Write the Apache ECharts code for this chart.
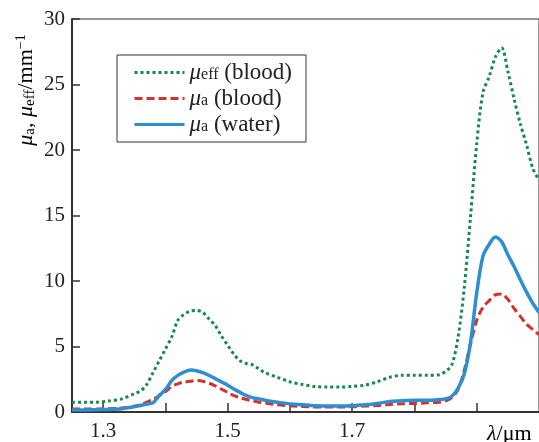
<!DOCTYPE html>
<html>
<head>
<meta charset="utf-8">
<script src="https://cdn.jsdelivr.net/npm/echarts@6/dist/echarts.min.js"></script>
<style>
html,body{margin:0;padding:0;background:#fff;}
#chart{width:539px;height:442px;}
</style>
</head>
<body>
<div id="chart"></div>
<script>
var wavelengths = [1.25,1.27,1.29,1.31,1.33,1.35,1.36,1.37,1.38,1.39,1.40,1.41,1.42,1.43,1.44,1.45,1.46,1.47,1.48,1.49,1.50,1.51,1.52,1.53,1.54,1.55,1.56,1.58,1.60,1.62,1.64,1.66,1.68,1.70,1.72,1.74,1.76,1.78,1.80,1.82,1.84,1.85,1.86,1.87,1.88,1.89,1.90,1.91,1.92,1.93,1.94,1.95,1.96,1.97,1.98,1.99,2.00];
var muEffBlood = [0.75,0.75,0.75,0.85,1.0,1.4,1.6,2.1,3.0,3.9,4.8,5.7,7.0,7.45,7.7,7.75,7.6,7.1,6.6,5.8,5.1,4.4,3.9,3.7,3.6,3.3,3.0,2.65,2.3,2.1,1.95,1.9,1.9,1.95,2.05,2.3,2.65,2.8,2.8,2.8,2.85,3.1,3.6,5.7,9.5,14.9,20.5,24.4,25.6,27.1,27.8,26.0,23.9,22.0,20.4,18.6,17.7];
var muABlood = [0.22,0.22,0.22,0.25,0.3,0.45,0.55,0.75,0.95,1.25,1.55,1.95,2.15,2.3,2.35,2.4,2.35,2.2,2.0,1.75,1.5,1.25,1.1,0.95,0.85,0.75,0.68,0.55,0.47,0.42,0.38,0.38,0.38,0.4,0.45,0.5,0.58,0.63,0.65,0.7,0.75,0.85,1.1,1.7,3.2,5.2,7.0,8.0,8.5,8.95,9.0,8.6,7.9,7.3,6.7,6.3,5.9];
var muAWater = [0.15,0.15,0.17,0.2,0.25,0.4,0.5,0.6,0.7,1.25,1.7,2.4,2.8,3.05,3.2,3.15,3.0,2.8,2.55,2.3,2.05,1.75,1.5,1.25,1.1,1.0,0.9,0.75,0.62,0.55,0.48,0.45,0.45,0.48,0.55,0.65,0.8,0.85,0.9,0.9,0.95,1.0,1.2,1.8,2.9,5.3,9.1,11.9,12.8,13.35,13.0,12.0,11.1,10.1,9.15,8.3,7.6];
var xTicks = [1.3,1.4,1.5,1.6,1.7,1.8,1.9];
var xTickLabels = [1.3,1.5,1.7];
var seriesNames = ['effBlood','aBlood','aWater'];
var legendTexts = {
  effBlood: '{i|μ}{sub|eff}{t| (blood)}',
  aBlood: '{i|μ}{sub|a}{t| (blood)}',
  aWater: '{i|μ}{sub|a}{t| (water)}'
};
var yTitle = '{i|μ}{sub|a}{t|, }{i|μ}{sub|eff}{t|/mm}{sup|−1}';
var xTitle = '{i|λ}{t|/μm}';

function pairs(ys){ return wavelengths.map(function(x,i){ return [x, ys[i]]; }); }

var serif = 'Liberation Serif';
var richCommon = {
  i: {fontFamily: serif, fontStyle: 'italic', fontSize: 22, color: '#222', lineHeight: 24},
  t: {fontFamily: serif, fontSize: 22, color: '#222', lineHeight: 24},
  sub: {fontFamily: serif, fontSize: 15, color: '#222', lineHeight: 15, verticalAlign: 'bottom'},
  sup: {fontFamily: serif, fontSize: 14, color: '#222', lineHeight: 14, verticalAlign: 'top'}
};
var richLegend = {
  i: {fontFamily: serif, fontStyle: 'italic', fontSize: 23, color: '#222', lineHeight: 20},
  t: {fontFamily: serif, fontSize: 23, color: '#222', lineHeight: 20},
  sub: {fontFamily: serif, fontSize: 16, color: '#222', lineHeight: 12, verticalAlign: 'bottom'}
};

var chart = echarts.init(document.getElementById('chart'));
chart.setOption({
  animation: false,
  backgroundColor: '#fff',
  grid: {left: 72, top: 19, width: 469, bottom: 27, show: true, borderColor: '#333', borderWidth: 1},
  xAxis: {
    type: 'value', min: 1.25, max: 2.0,
    axisLine: {show: true, lineStyle: {color: '#333', width: 2}},
    axisTick: {show: true, inside: true, length: 9, customValues: xTicks, lineStyle: {color: '#333', width: 1.5}},
    axisLabel: {customValues: xTickLabels, margin: 9, fontFamily: serif, fontSize: 21, color: '#222',
      formatter: function(v){ return v.toFixed(1); }},
    splitLine: {show: false}
  },
  yAxis: {
    type: 'value', min: 0, max: 30, interval: 5,
    axisLine: {show: true, lineStyle: {color: '#333', width: 2}},
    axisTick: {show: true, inside: true, length: 8, lineStyle: {color: '#333', width: 1.5}},
    axisLabel: {margin: 7, fontFamily: serif, fontSize: 21, color: '#222'},
    splitLine: {show: false}
  },
  legend: {
    orient: 'vertical', left: 117, top: 55,
    padding: [6, 14, 6, 16], itemGap: 3, itemWidth: 50, itemHeight: 14,
    borderColor: '#333', borderWidth: 1, backgroundColor: '#fff',
    itemStyle: {opacity: 0},
    lineStyle: {width: 3},
    data: seriesNames,
    formatter: function(name){ return legendTexts[name]; },
    textStyle: {rich: richLegend, padding: [0,0,0,0]}
  },
  series: [
    {name: 'effBlood', type: 'line', data: pairs(muEffBlood), symbol: 'none', smooth: 0.3,
     lineStyle: {color: '#17884a', width: 3, type: [3, 3]}, itemStyle: {color: '#17884a'}},
    {name: 'aBlood', type: 'line', data: pairs(muABlood), symbol: 'none', smooth: 0.3,
     lineStyle: {color: '#d7302b', width: 3, type: [8, 4]}, itemStyle: {color: '#d7302b'}},
    {name: 'aWater', type: 'line', data: pairs(muAWater), symbol: 'none', smooth: 0.3,
     lineStyle: {color: '#2d8fd0', width: 3.5, type: 'solid'}, itemStyle: {color: '#2d8fd0'}}
  ],
  graphic: [
    {type: 'text', x: 26, y: 90, rotation: Math.PI / 2,
     style: {text: yTitle, rich: richCommon, align: 'center', verticalAlign: 'middle'}},
    {type: 'text', x: 487, y: 434,
     style: {text: xTitle, rich: richCommon, align: 'left', verticalAlign: 'middle'}}
  ]
});
</script>
</body>
</html>
